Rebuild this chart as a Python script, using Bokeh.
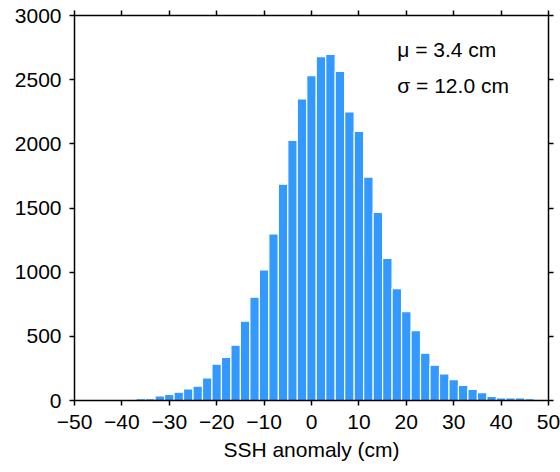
from bokeh.plotting import figure
from bokeh.models import LinearAxis, Label, FixedTicker, ColumnDataSource, Range1d
from bokeh.embed import file_html
from bokeh.resources import INLINE

# bin centres (cm) and counts
bin_centers = [-36, -34, -32, -30, -28, -26, -24, -22, -20, -18, -16, -14, -12, -10,
               -8, -6, -4, -2, 0, 2, 4, 6, 8, 10, 12, 14, 16, 18, 20, 22, 24, 26,
               28, 30, 32, 34, 36, 38, 40, 42, 44, 46, 48]
counts = [14, 15, 36, 47, 65, 90, 111, 176, 283, 335, 431, 618, 805, 1017,
          1298, 1685, 2027, 2350, 2531, 2679, 2697, 2565, 2248, 2097, 1741, 1466, 1108, 872,
          693, 545, 368, 275, 207, 163, 117, 86, 62, 31, 20, 20, 20, 15, 8]
bin_width = 2
x_ticks = [-50, -40, -30, -20, -10, 0, 10, 20, 30, 40, 50]
y_ticks = [0, 500, 1000, 1500, 2000, 2500, 3000]
mean_text = "\u03bc = 3.4 cm"
std_text = "\u03c3 = 12.0 cm"
x_label = "SSH anomaly (cm)"

FONT = "Liberation Sans"
FS = "21px"

p = figure(output_backend="svg", toolbar_location=None,
           frame_width=474, frame_height=385,
           x_range=Range1d(-50, 50), y_range=Range1d(0, 3000),
           min_border_left=74, min_border_right=12, min_border_top=15, min_border_bottom=72,
           outline_line_color=None, background_fill_color="white")
p.grid.visible = False

src = ColumnDataSource(dict(x=bin_centers, top=counts))
p.vbar(x="x", top="top", width=bin_width, bottom=0, source=src,
       fill_color="#3399ff", line_color="white", line_width=1.2)

def style(ax, labels=True):
    ax.axis_line_color = "black"
    ax.axis_line_width = 1.5
    ax.major_tick_line_color = "black"
    ax.major_tick_line_width = 1.5
    ax.major_tick_out = 5
    ax.major_tick_in = 0
    ax.minor_tick_line_color = None
    ax.major_label_text_font = FONT
    ax.major_label_text_font_size = FS
    ax.major_label_text_color = "black"
    ax.axis_label_text_font = FONT
    ax.axis_label_text_font_size = FS
    ax.axis_label_text_font_style = "normal"
    ax.axis_label_text_color = "black"
    if not labels:
        ax.major_label_text_alpha = 0
        ax.major_label_text_font_size = "1px"

xa = p.xaxis[0]
xa.ticker = FixedTicker(ticks=x_ticks)
xa.major_label_overrides = {t: (("\u2212" + str(-t)) if t < 0 else str(t)) for t in x_ticks}
xa.axis_label = x_label
xa.major_label_standoff = 9
xa.axis_label_standoff = 6
style(xa)

ya = p.yaxis[0]
ya.ticker = FixedTicker(ticks=y_ticks)
ya.major_label_standoff = 8
style(ya)

top_ax = LinearAxis(ticker=FixedTicker(ticks=x_ticks))
style(top_ax, labels=False)
p.add_layout(top_ax, "above")
right_ax = LinearAxis(ticker=FixedTicker(ticks=y_ticks))
style(right_ax, labels=False)
p.add_layout(right_ax, "right")

for txt, yv in [(mean_text, 2738), (std_text, 2455)]:
    p.add_layout(Label(x=18.1, y=yv, text=txt, text_font=FONT, text_font_size=FS,
                       text_color="black", text_baseline="alphabetic"))

open("out.html", "w").write(file_html(p, INLINE))
